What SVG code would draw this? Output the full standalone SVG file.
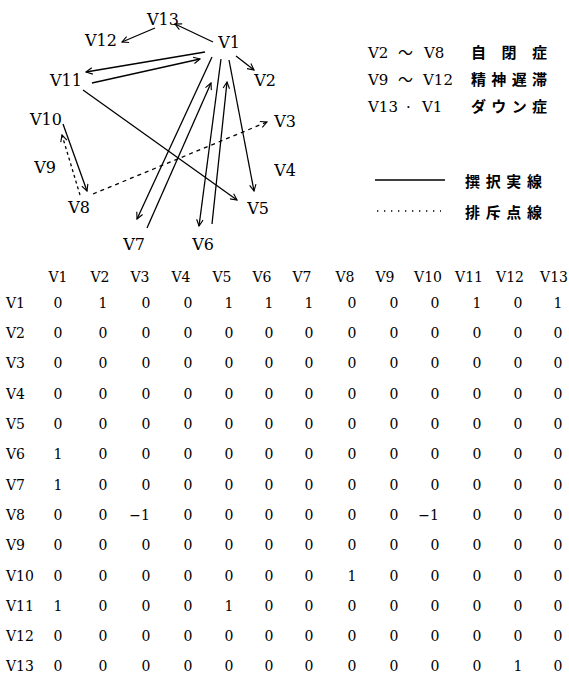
<svg xmlns="http://www.w3.org/2000/svg" width="569" height="675" viewBox="0 0 569 675">
<defs>
<style>
.lbl{font-family:"DejaVu Serif","Liberation Serif",serif;font-size:16px;fill:#000;text-anchor:middle}
.leg{font-family:"DejaVu Serif","Liberation Serif",serif;font-size:15px;fill:#000}
.cj{font-family:"Noto Sans CJK JP","Noto Sans CJK SC",sans-serif}
.jp{font-family:"Noto Sans CJK JP","Noto Sans CJK SC",sans-serif;font-size:15px;font-weight:bold;fill:#000}
.m{font-family:"DejaVu Serif","Liberation Serif",serif;font-size:14px;fill:#000;text-anchor:middle}
.rl{font-family:"DejaVu Serif","Liberation Serif",serif;font-size:14px;fill:#000}
.e{fill:none;stroke:#000;stroke-width:1.3;marker-end:url(#arr)}
.dash{stroke-dasharray:4 4}
.dot{stroke-dasharray:3 3}
</style>
<marker id="arr" viewBox="0 0 10 10" refX="9" refY="5" markerWidth="8" markerHeight="8" orient="auto" markerUnits="userSpaceOnUse">
<path d="M1,1 L9,5 L1,9" fill="none" stroke="#000" stroke-width="1.4"/>
</marker>
</defs>
<rect width="569" height="675" fill="#fff"/>

<g id="connectors">
<line class="e" x1="213" y1="42" x2="175" y2="24"/>
<line class="e" x1="155" y1="28" x2="122" y2="42"/>
<line class="e" x1="205" y1="52" x2="86" y2="72"/>
<line class="e" x1="92" y1="83" x2="200" y2="59"/>
<line class="e" x1="236" y1="56" x2="254" y2="70"/>
<line class="e" x1="83" y1="90" x2="237" y2="200"/>
<line class="e" x1="212" y1="57" x2="137" y2="219"/>
<line class="e" x1="147" y1="228" x2="211" y2="83"/>
<line class="e" x1="221" y1="59" x2="199" y2="226"/>
<line class="e" x1="212" y1="224" x2="227" y2="82"/>
<line class="e" x1="229" y1="60" x2="254" y2="191"/>
<line class="e dash" x1="93" y1="194" x2="267" y2="122"/>
<line class="e" x1="63" y1="124" x2="87" y2="191"/>
<line class="e dot" x1="80" y1="195" x2="62" y2="135"/>
</g>

<g id="V1"><text class="lbl" x="229" y="48">V1</text></g>
<g id="V2"><text class="lbl" x="265" y="86">V2</text></g>
<g id="V3"><text class="lbl" x="285" y="127">V3</text></g>
<g id="V4"><text class="lbl" x="285" y="176">V4</text></g>
<g id="V5"><text class="lbl" x="258" y="214">V5</text></g>
<g id="V6"><text class="lbl" x="203" y="250">V6</text></g>
<g id="V7"><text class="lbl" x="134" y="250">V7</text></g>
<g id="V8"><text class="lbl" x="79" y="213">V8</text></g>
<g id="V9"><text class="lbl" x="45" y="173">V9</text></g>
<g id="V10"><text class="lbl" x="46" y="125">V10</text></g>
<g id="V11"><text class="lbl" x="66" y="86">V11</text></g>
<g id="V12"><text class="lbl" x="101" y="46">V12</text></g>
<g id="V13"><text class="lbl" x="163" y="25">V13</text></g>

<g id="legend">
<text class="leg" y="58"><tspan x="368">V2</tspan><tspan x="398" class="cj">～</tspan><tspan x="424">V8</tspan></text>
<text class="jp" x="471" y="58" textLength="76" lengthAdjust="spacing">自 閉 症</text>
<text class="leg" y="85"><tspan x="368">V9</tspan><tspan x="398" class="cj">～</tspan><tspan x="423">V12</tspan></text>
<text class="jp" x="471" y="85" textLength="76" lengthAdjust="spacing">精神遅滞</text>
<text class="leg" y="112"><tspan x="368">V13</tspan><tspan x="406">·</tspan><tspan x="422">V1</tspan></text>
<text class="jp" x="471" y="112" textLength="76" lengthAdjust="spacing">ダウン症</text>
<line x1="375" y1="180" x2="445" y2="180" stroke="#000" stroke-width="1.3"/>
<text class="jp" x="465" y="187" textLength="77" lengthAdjust="spacing">撰択実線</text>
<line x1="377" y1="211" x2="441" y2="211" stroke="#000" stroke-width="1.3" stroke-dasharray="1.3 5.7"/>
<text class="jp" x="465" y="218" textLength="77" lengthAdjust="spacing">排斥点線</text>
</g>

<g id="matrix">
<text class="m" x="58" y="282">V1</text><text class="m" x="100" y="282">V2</text><text class="m" x="140" y="282">V3</text><text class="m" x="181" y="282">V4</text><text class="m" x="222" y="282">V5</text><text class="m" x="262" y="282">V6</text><text class="m" x="302" y="282">V7</text><text class="m" x="345" y="282">V8</text><text class="m" x="385" y="282">V9</text><text class="m" x="428" y="282">V10</text><text class="m" x="469" y="282">V11</text><text class="m" x="510" y="282">V12</text><text class="m" x="554" y="282">V13</text>

<text class="rl" x="6" y="308">V1</text>
<text class="m" x="58" y="308">0</text><text class="m" x="103" y="308">1</text><text class="m" x="146" y="308">0</text><text class="m" x="188" y="308">0</text><text class="m" x="229" y="308">1</text><text class="m" x="269" y="308">1</text><text class="m" x="309" y="308">1</text><text class="m" x="352" y="308">0</text><text class="m" x="394" y="308">0</text><text class="m" x="435" y="308">0</text><text class="m" x="477" y="308">1</text><text class="m" x="518" y="308">0</text><text class="m" x="558" y="308">1</text>

<text class="rl" x="6" y="338">V2</text>
<text class="m" x="58" y="338">0</text><text class="m" x="103" y="338">0</text><text class="m" x="146" y="338">0</text><text class="m" x="188" y="338">0</text><text class="m" x="229" y="338">0</text><text class="m" x="269" y="338">0</text><text class="m" x="309" y="338">0</text><text class="m" x="352" y="338">0</text><text class="m" x="394" y="338">0</text><text class="m" x="435" y="338">0</text><text class="m" x="477" y="338">0</text><text class="m" x="518" y="338">0</text><text class="m" x="558" y="338">0</text>

<text class="rl" x="6" y="368">V3</text>
<text class="m" x="58" y="368">0</text><text class="m" x="103" y="368">0</text><text class="m" x="146" y="368">0</text><text class="m" x="188" y="368">0</text><text class="m" x="229" y="368">0</text><text class="m" x="269" y="368">0</text><text class="m" x="309" y="368">0</text><text class="m" x="352" y="368">0</text><text class="m" x="394" y="368">0</text><text class="m" x="435" y="368">0</text><text class="m" x="477" y="368">0</text><text class="m" x="518" y="368">0</text><text class="m" x="558" y="368">0</text>

<text class="rl" x="6" y="399">V4</text>
<text class="m" x="58" y="399">0</text><text class="m" x="103" y="399">0</text><text class="m" x="146" y="399">0</text><text class="m" x="188" y="399">0</text><text class="m" x="229" y="399">0</text><text class="m" x="269" y="399">0</text><text class="m" x="309" y="399">0</text><text class="m" x="352" y="399">0</text><text class="m" x="394" y="399">0</text><text class="m" x="435" y="399">0</text><text class="m" x="477" y="399">0</text><text class="m" x="518" y="399">0</text><text class="m" x="558" y="399">0</text>

<text class="rl" x="6" y="429">V5</text>
<text class="m" x="58" y="429">0</text><text class="m" x="103" y="429">0</text><text class="m" x="146" y="429">0</text><text class="m" x="188" y="429">0</text><text class="m" x="229" y="429">0</text><text class="m" x="269" y="429">0</text><text class="m" x="309" y="429">0</text><text class="m" x="352" y="429">0</text><text class="m" x="394" y="429">0</text><text class="m" x="435" y="429">0</text><text class="m" x="477" y="429">0</text><text class="m" x="518" y="429">0</text><text class="m" x="558" y="429">0</text>

<text class="rl" x="6" y="459">V6</text>
<text class="m" x="58" y="459">1</text><text class="m" x="103" y="459">0</text><text class="m" x="146" y="459">0</text><text class="m" x="188" y="459">0</text><text class="m" x="229" y="459">0</text><text class="m" x="269" y="459">0</text><text class="m" x="309" y="459">0</text><text class="m" x="352" y="459">0</text><text class="m" x="394" y="459">0</text><text class="m" x="435" y="459">0</text><text class="m" x="477" y="459">0</text><text class="m" x="518" y="459">0</text><text class="m" x="558" y="459">0</text>

<text class="rl" x="6" y="490">V7</text>
<text class="m" x="58" y="490">1</text><text class="m" x="103" y="490">0</text><text class="m" x="146" y="490">0</text><text class="m" x="188" y="490">0</text><text class="m" x="229" y="490">0</text><text class="m" x="269" y="490">0</text><text class="m" x="309" y="490">0</text><text class="m" x="352" y="490">0</text><text class="m" x="394" y="490">0</text><text class="m" x="435" y="490">0</text><text class="m" x="477" y="490">0</text><text class="m" x="518" y="490">0</text><text class="m" x="558" y="490">0</text>

<text class="rl" x="6" y="520">V8</text>
<text class="m" x="58" y="520">0</text><text class="m" x="103" y="520">0</text><text class="m" x="150" y="520" style="text-anchor:end">−1</text><text class="m" x="188" y="520">0</text><text class="m" x="229" y="520">0</text><text class="m" x="269" y="520">0</text><text class="m" x="309" y="520">0</text><text class="m" x="352" y="520">0</text><text class="m" x="394" y="520">0</text><text class="m" x="439" y="520" style="text-anchor:end">−1</text><text class="m" x="477" y="520">0</text><text class="m" x="518" y="520">0</text><text class="m" x="558" y="520">0</text>

<text class="rl" x="6" y="550">V9</text>
<text class="m" x="58" y="550">0</text><text class="m" x="103" y="550">0</text><text class="m" x="146" y="550">0</text><text class="m" x="188" y="550">0</text><text class="m" x="229" y="550">0</text><text class="m" x="269" y="550">0</text><text class="m" x="309" y="550">0</text><text class="m" x="352" y="550">0</text><text class="m" x="394" y="550">0</text><text class="m" x="435" y="550">0</text><text class="m" x="477" y="550">0</text><text class="m" x="518" y="550">0</text><text class="m" x="558" y="550">0</text>

<text class="rl" x="6" y="581">V10</text>
<text class="m" x="58" y="581">0</text><text class="m" x="103" y="581">0</text><text class="m" x="146" y="581">0</text><text class="m" x="188" y="581">0</text><text class="m" x="229" y="581">0</text><text class="m" x="269" y="581">0</text><text class="m" x="309" y="581">0</text><text class="m" x="352" y="581">1</text><text class="m" x="394" y="581">0</text><text class="m" x="435" y="581">0</text><text class="m" x="477" y="581">0</text><text class="m" x="518" y="581">0</text><text class="m" x="558" y="581">0</text>

<text class="rl" x="6" y="611">V11</text>
<text class="m" x="58" y="611">1</text><text class="m" x="103" y="611">0</text><text class="m" x="146" y="611">0</text><text class="m" x="188" y="611">0</text><text class="m" x="229" y="611">1</text><text class="m" x="269" y="611">0</text><text class="m" x="309" y="611">0</text><text class="m" x="352" y="611">0</text><text class="m" x="394" y="611">0</text><text class="m" x="435" y="611">0</text><text class="m" x="477" y="611">0</text><text class="m" x="518" y="611">0</text><text class="m" x="558" y="611">0</text>

<text class="rl" x="6" y="641">V12</text>
<text class="m" x="58" y="641">0</text><text class="m" x="103" y="641">0</text><text class="m" x="146" y="641">0</text><text class="m" x="188" y="641">0</text><text class="m" x="229" y="641">0</text><text class="m" x="269" y="641">0</text><text class="m" x="309" y="641">0</text><text class="m" x="352" y="641">0</text><text class="m" x="394" y="641">0</text><text class="m" x="435" y="641">0</text><text class="m" x="477" y="641">0</text><text class="m" x="518" y="641">0</text><text class="m" x="558" y="641">0</text>

<text class="rl" x="6" y="671">V13</text>
<text class="m" x="58" y="671">0</text><text class="m" x="103" y="671">0</text><text class="m" x="146" y="671">0</text><text class="m" x="188" y="671">0</text><text class="m" x="229" y="671">0</text><text class="m" x="269" y="671">0</text><text class="m" x="309" y="671">0</text><text class="m" x="352" y="671">0</text><text class="m" x="394" y="671">0</text><text class="m" x="435" y="671">0</text><text class="m" x="477" y="671">0</text><text class="m" x="518" y="671">1</text><text class="m" x="558" y="671">0</text>
</g>
</svg>
